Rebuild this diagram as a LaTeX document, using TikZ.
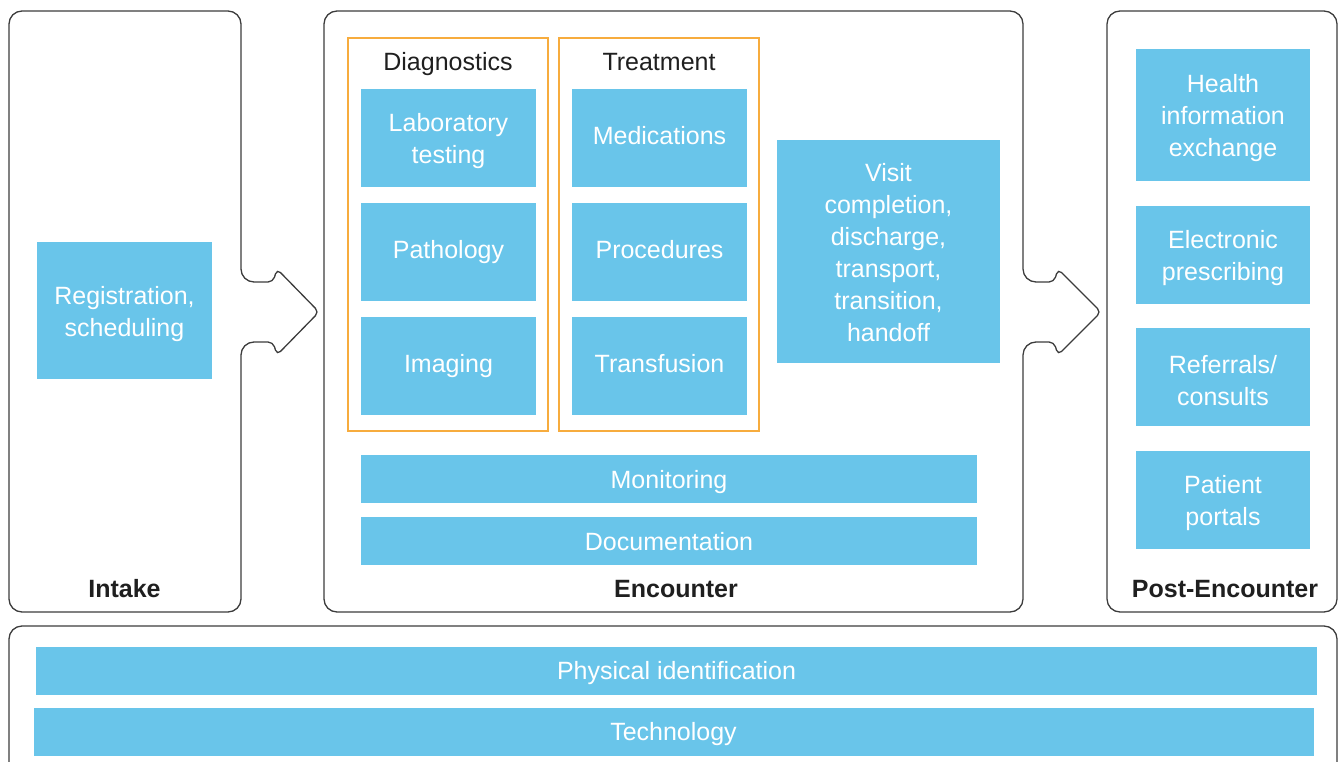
\documentclass[tikz,border=0pt]{standalone}
\usepackage{fontspec}
\setmainfont{Liberation Sans}
\definecolor{boxblue}{HTML}{69C5EA}
\definecolor{frameorange}{HTML}{F7AC3E}
\definecolor{outline}{HTML}{3C3C3C}
\newcommand{\topgap}[1]{\rule{0pt}{#1}}

\begin{document}
\begin{tikzpicture}[x=1pt, y=-1pt, font=\fontsize{25}{32}\selectfont]
		\tikzstyle{task}=[fill=boxblue,text=white,align=center,inner sep=0pt]
		\tikzstyle{oneline}=[task,text height=18pt,text depth=5.3pt]
		\tikzstyle{bar}=[task,text height=23.5pt,text depth=5.3pt,minimum height=48pt]
		\tikzstyle{phase}=[draw=outline,line width=1.3pt,rounded corners=13pt]
		\tikzstyle{group}=[draw=frameorange,line width=2.4pt]
		\tikzstyle{title}=[text=black!88,inner sep=0pt]
		
		\useasboundingbox (0,0) rectangle (1338,762);
		
		% phase outlines with their arrow tabs
		\draw[phase] (9,11) -- (241,11) -- (241,282) [rounded corners=5pt] -- (273,282) -- (277,269) -- (319,312) -- (277,355) -- (273,342) [rounded corners=13pt] -- (241,342) -- (241,612) -- (9,612) -- cycle;
		\draw[phase] (324,11) -- (1023,11) -- (1023,282) [rounded corners=5pt] -- (1054,282) -- (1058,269) -- (1101,312) -- (1058,355) -- (1054,342) [rounded corners=13pt] -- (1023,342) -- (1023,612) -- (324,612) -- cycle;
		\draw[phase] (1107,11) rectangle (1337,612);
		\begin{scope}
			\clip (0,0) rectangle (1338,762);
			\draw[phase] (9,626) rectangle (1337,800);
		\end{scope}
		
		\draw[group] (348,38) rectangle (548,431);
		\draw[group] (559,38) rectangle (759,431);
		
		\node[title,font=\fontsize{25}{32}\selectfont\bfseries] at (124.5,589) (intake) {Intake};
		\node[title,font=\fontsize{25}{32}\selectfont\bfseries] at (676,589) (encounter) {Encounter};
		\node[title,font=\fontsize{25}{32}\selectfont\bfseries] at (1225,589) (post) {Post-Encounter};
		\node[title] at (448,64) (diag) {Diagnostics};
		\node[title] at (659,62) (treat) {Treatment};
		
		\node[task,minimum width=175pt,minimum height=137pt] at (124.5,310.5) (reg) {\topgap{25pt}Registration,\\scheduling};
		
		\node[task,minimum width=175pt,minimum height=98pt] at (448.5,138) (lab) {\topgap{25pt}Laboratory\\testing};
		\node[oneline,minimum width=175pt,minimum height=98pt] at (448.5,252) (patho) {Pathology};
		\node[oneline,minimum width=175pt,minimum height=98pt] at (448.5,366) (img) {Imaging};
		\node[oneline,minimum width=175pt,minimum height=98pt] at (659.5,138) (med) {Medications};
		\node[oneline,minimum width=175pt,minimum height=98pt] at (659.5,252) (proc) {Procedures};
		\node[oneline,minimum width=175pt,minimum height=98pt] at (659.5,366) (transf) {Transfusion};
		\node[task,minimum width=223pt,minimum height=223pt] at (888.5,251.5) (visit) {\topgap{21pt}Visit\\completion,\\discharge,\\transport,\\transition,\\handoff};
		\node[bar,minimum width=616pt] at (669,479) (monit) {Monitoring};
		\node[bar,minimum width=616pt] at (669,541) (doc) {Documentation};
		
		\node[task,minimum width=174pt,minimum height=132pt] at (1223,115) (hie) {\topgap{25pt}Health\\information\\exchange};
		\node[task,minimum width=174pt,minimum height=98pt] at (1223,255) (erx) {\topgap{25pt}Electronic\\prescribing};
		\node[task,minimum width=174pt,minimum height=98pt] at (1223,377) (refer) {\topgap{25pt}Referrals/\\consults};
		\node[task,minimum width=174pt,minimum height=98pt] at (1223,500) (portal) {\topgap{25pt}Patient\\portals};
		
		\node[bar,minimum width=1281pt] at (676.5,670.5) (physid) {Physical identification};
		\node[bar,minimum width=1280pt] at (673.5,731.5) (tech) {Technology};
	\end{tikzpicture}
\end{document}
